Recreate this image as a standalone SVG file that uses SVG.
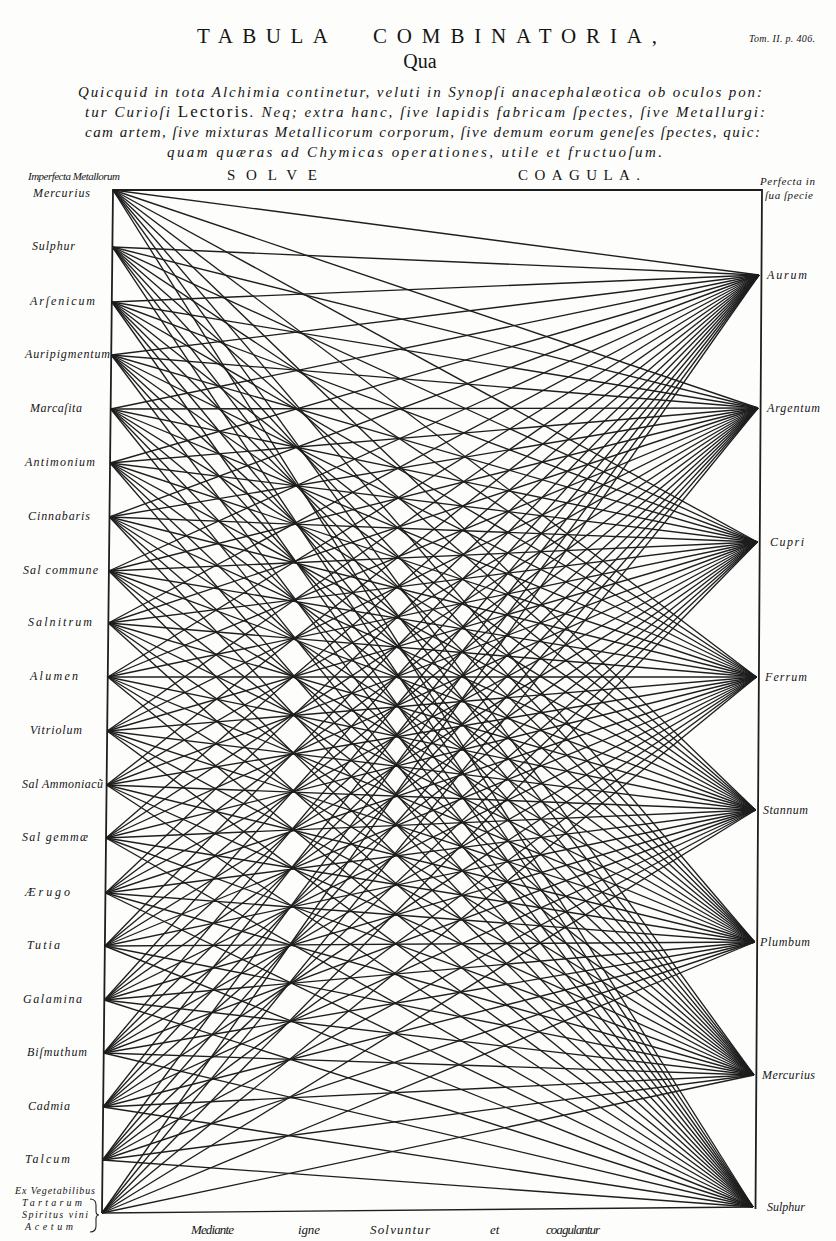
<svg xmlns="http://www.w3.org/2000/svg" width="836" height="1241" viewBox="0 0 836 1241">
<style>
.bg{fill:#fdfdfc}
.frame{fill:none;stroke:#1e1e1e;stroke-width:1.8}
#connectors line{stroke:#1e1e1e;stroke-width:1.35;fill:none}
.lbl{font-family:"Liberation Serif","DejaVu Serif",serif;font-style:italic;font-size:13px;fill:#151515}
.sm{font-size:12px}
.title{font-family:"Liberation Serif","DejaVu Serif",serif;font-size:21px;fill:#151515}
.txt{font-family:"Liberation Serif","DejaVu Serif",serif;font-style:italic;font-size:15px;fill:#151515}
.rom{font-style:normal;font-size:17px}
.head{font-family:"Liberation Serif","DejaVu Serif",serif;font-size:15px;fill:#151515}
</style>
<rect class="bg" x="0" y="0" width="836" height="1241"/>

<g id="header">
<text class="title" x="197" y="43" textLength="131" lengthAdjust="spacing">TABULA</text>
<text class="title" x="373" y="43" textLength="284" lengthAdjust="spacing">COMBINATORIA,</text>
<text class="lbl" x="749" y="42" textLength="66" lengthAdjust="spacing" style="font-size:10px">Tom. II. p. 406.</text>
<text class="title" x="420" y="68" text-anchor="middle" style="font-size:20px">Qua</text>
<text class="txt" x="78" y="97" textLength="684" lengthAdjust="spacing">Quicquid in tota Alchimia continetur, veluti in Synopſi anacephalæotica ob oculos pon:</text>
<text class="txt" x="85" y="117" textLength="680" lengthAdjust="spacing">tur Curioſi <tspan class="rom">Lectoris</tspan>. Neq; extra hanc, ſive lapidis fabricam ſpectes, ſive Metallurgi:</text>
<text class="txt" x="85" y="137" textLength="675" lengthAdjust="spacing">cam artem, ſive mixturas Metallicorum corporum, ſive demum eorum geneſes ſpectes, quic:</text>
<text class="txt" x="167" y="157" textLength="495" lengthAdjust="spacing">quam quæras ad Chymicas operationes, utile et fructuoſum.</text>
<text class="head" x="227" y="180" textLength="90" lengthAdjust="spacing">SOLVE</text>
<text class="head" x="518" y="180" textLength="122" lengthAdjust="spacing">COAGULA.</text>
<text class="lbl" x="28" y="180" textLength="92" lengthAdjust="spacing" style="font-size:11px">Imperfecta Metallorum</text>
<text class="lbl" x="760" y="185" textLength="55" lengthAdjust="spacing" style="font-size:11px">Perfecta in</text>
<text class="lbl" x="765" y="199" textLength="48" lengthAdjust="spacing" style="font-size:11px">ſua ſpecie</text>
</g>

<g id="footer">
<text class="lbl" x="191" y="1234" textLength="43" lengthAdjust="spacing">Mediante</text>
<text class="lbl" x="298" y="1234" textLength="22" lengthAdjust="spacing">igne</text>
<text class="lbl" x="370" y="1234" textLength="60" lengthAdjust="spacing">Solvuntur</text>
<text class="lbl" x="490" y="1234">et</text>
<text class="lbl" x="546" y="1234" textLength="54" lengthAdjust="spacing">coagulantur</text>
</g>

<path class="frame" d="M102 1213L113 190L762 190L755.5 1209"/>

<g id="connectors">
<line x1="113" y1="190" x2="759" y2="275"/><line x1="113" y1="190" x2="758" y2="408"/><line x1="113" y1="190" x2="757.3" y2="542"/><line x1="113" y1="190" x2="756.4" y2="677"/><line x1="113" y1="190" x2="755.5" y2="810"/><line x1="113" y1="190" x2="754.7" y2="942"/><line x1="113" y1="190" x2="753.9" y2="1075"/><line x1="113" y1="190" x2="753" y2="1207"/>
<line x1="112.4" y1="247" x2="759" y2="275"/><line x1="112.4" y1="247" x2="758" y2="408"/><line x1="112.4" y1="247" x2="757.3" y2="542"/><line x1="112.4" y1="247" x2="756.4" y2="677"/><line x1="112.4" y1="247" x2="755.5" y2="810"/><line x1="112.4" y1="247" x2="754.7" y2="942"/><line x1="112.4" y1="247" x2="753.9" y2="1075"/><line x1="112.4" y1="247" x2="753" y2="1207"/>
<line x1="111.8" y1="302" x2="759" y2="275"/><line x1="111.8" y1="302" x2="758" y2="408"/><line x1="111.8" y1="302" x2="757.3" y2="542"/><line x1="111.8" y1="302" x2="756.4" y2="677"/><line x1="111.8" y1="302" x2="755.5" y2="810"/><line x1="111.8" y1="302" x2="754.7" y2="942"/><line x1="111.8" y1="302" x2="753.9" y2="1075"/><line x1="111.8" y1="302" x2="753" y2="1207"/>
<line x1="111.3" y1="355" x2="759" y2="275"/><line x1="111.3" y1="355" x2="758" y2="408"/><line x1="111.3" y1="355" x2="757.3" y2="542"/><line x1="111.3" y1="355" x2="756.4" y2="677"/><line x1="111.3" y1="355" x2="755.5" y2="810"/><line x1="111.3" y1="355" x2="754.7" y2="942"/><line x1="111.3" y1="355" x2="753.9" y2="1075"/><line x1="111.3" y1="355" x2="753" y2="1207"/>
<line x1="110.7" y1="409" x2="759" y2="275"/><line x1="110.7" y1="409" x2="758" y2="408"/><line x1="110.7" y1="409" x2="757.3" y2="542"/><line x1="110.7" y1="409" x2="756.4" y2="677"/><line x1="110.7" y1="409" x2="755.5" y2="810"/><line x1="110.7" y1="409" x2="754.7" y2="942"/><line x1="110.7" y1="409" x2="753.9" y2="1075"/><line x1="110.7" y1="409" x2="753" y2="1207"/>
<line x1="110.1" y1="463" x2="759" y2="275"/><line x1="110.1" y1="463" x2="758" y2="408"/><line x1="110.1" y1="463" x2="757.3" y2="542"/><line x1="110.1" y1="463" x2="756.4" y2="677"/><line x1="110.1" y1="463" x2="755.5" y2="810"/><line x1="110.1" y1="463" x2="754.7" y2="942"/><line x1="110.1" y1="463" x2="753.9" y2="1075"/><line x1="110.1" y1="463" x2="753" y2="1207"/>
<line x1="109.5" y1="517" x2="759" y2="275"/><line x1="109.5" y1="517" x2="758" y2="408"/><line x1="109.5" y1="517" x2="757.3" y2="542"/><line x1="109.5" y1="517" x2="756.4" y2="677"/><line x1="109.5" y1="517" x2="755.5" y2="810"/><line x1="109.5" y1="517" x2="754.7" y2="942"/><line x1="109.5" y1="517" x2="753.9" y2="1075"/><line x1="109.5" y1="517" x2="753" y2="1207"/>
<line x1="108.9" y1="571" x2="759" y2="275"/><line x1="108.9" y1="571" x2="758" y2="408"/><line x1="108.9" y1="571" x2="757.3" y2="542"/><line x1="108.9" y1="571" x2="756.4" y2="677"/><line x1="108.9" y1="571" x2="755.5" y2="810"/><line x1="108.9" y1="571" x2="754.7" y2="942"/><line x1="108.9" y1="571" x2="753.9" y2="1075"/><line x1="108.9" y1="571" x2="753" y2="1207"/>
<line x1="108.4" y1="623" x2="759" y2="275"/><line x1="108.4" y1="623" x2="758" y2="408"/><line x1="108.4" y1="623" x2="757.3" y2="542"/><line x1="108.4" y1="623" x2="756.4" y2="677"/><line x1="108.4" y1="623" x2="755.5" y2="810"/><line x1="108.4" y1="623" x2="754.7" y2="942"/><line x1="108.4" y1="623" x2="753.9" y2="1075"/><line x1="108.4" y1="623" x2="753" y2="1207"/>
<line x1="107.8" y1="677" x2="759" y2="275"/><line x1="107.8" y1="677" x2="758" y2="408"/><line x1="107.8" y1="677" x2="757.3" y2="542"/><line x1="107.8" y1="677" x2="756.4" y2="677"/><line x1="107.8" y1="677" x2="755.5" y2="810"/><line x1="107.8" y1="677" x2="754.7" y2="942"/><line x1="107.8" y1="677" x2="753.9" y2="1075"/><line x1="107.8" y1="677" x2="753" y2="1207"/>
<line x1="107.2" y1="731" x2="759" y2="275"/><line x1="107.2" y1="731" x2="758" y2="408"/><line x1="107.2" y1="731" x2="757.3" y2="542"/><line x1="107.2" y1="731" x2="756.4" y2="677"/><line x1="107.2" y1="731" x2="755.5" y2="810"/><line x1="107.2" y1="731" x2="754.7" y2="942"/><line x1="107.2" y1="731" x2="753.9" y2="1075"/><line x1="107.2" y1="731" x2="753" y2="1207"/>
<line x1="106.6" y1="785" x2="759" y2="275"/><line x1="106.6" y1="785" x2="758" y2="408"/><line x1="106.6" y1="785" x2="757.3" y2="542"/><line x1="106.6" y1="785" x2="756.4" y2="677"/><line x1="106.6" y1="785" x2="755.5" y2="810"/><line x1="106.6" y1="785" x2="754.7" y2="942"/><line x1="106.6" y1="785" x2="753.9" y2="1075"/><line x1="106.6" y1="785" x2="753" y2="1207"/>
<line x1="106" y1="838" x2="759" y2="275"/><line x1="106" y1="838" x2="758" y2="408"/><line x1="106" y1="838" x2="757.3" y2="542"/><line x1="106" y1="838" x2="756.4" y2="677"/><line x1="106" y1="838" x2="755.5" y2="810"/><line x1="106" y1="838" x2="754.7" y2="942"/><line x1="106" y1="838" x2="753.9" y2="1075"/><line x1="106" y1="838" x2="753" y2="1207"/>
<line x1="105.5" y1="893" x2="759" y2="275"/><line x1="105.5" y1="893" x2="758" y2="408"/><line x1="105.5" y1="893" x2="757.3" y2="542"/><line x1="105.5" y1="893" x2="756.4" y2="677"/><line x1="105.5" y1="893" x2="755.5" y2="810"/><line x1="105.5" y1="893" x2="754.7" y2="942"/><line x1="105.5" y1="893" x2="753.9" y2="1075"/><line x1="105.5" y1="893" x2="753" y2="1207"/>
<line x1="104.9" y1="946" x2="759" y2="275"/><line x1="104.9" y1="946" x2="758" y2="408"/><line x1="104.9" y1="946" x2="757.3" y2="542"/><line x1="104.9" y1="946" x2="756.4" y2="677"/><line x1="104.9" y1="946" x2="755.5" y2="810"/><line x1="104.9" y1="946" x2="754.7" y2="942"/><line x1="104.9" y1="946" x2="753.9" y2="1075"/><line x1="104.9" y1="946" x2="753" y2="1207"/>
<line x1="104.3" y1="1000" x2="759" y2="275"/><line x1="104.3" y1="1000" x2="758" y2="408"/><line x1="104.3" y1="1000" x2="757.3" y2="542"/><line x1="104.3" y1="1000" x2="756.4" y2="677"/><line x1="104.3" y1="1000" x2="755.5" y2="810"/><line x1="104.3" y1="1000" x2="754.7" y2="942"/><line x1="104.3" y1="1000" x2="753.9" y2="1075"/><line x1="104.3" y1="1000" x2="753" y2="1207"/>
<line x1="103.7" y1="1053" x2="759" y2="275"/><line x1="103.7" y1="1053" x2="758" y2="408"/><line x1="103.7" y1="1053" x2="757.3" y2="542"/><line x1="103.7" y1="1053" x2="756.4" y2="677"/><line x1="103.7" y1="1053" x2="755.5" y2="810"/><line x1="103.7" y1="1053" x2="754.7" y2="942"/><line x1="103.7" y1="1053" x2="753.9" y2="1075"/><line x1="103.7" y1="1053" x2="753" y2="1207"/>
<line x1="103.1" y1="1107" x2="759" y2="275"/><line x1="103.1" y1="1107" x2="758" y2="408"/><line x1="103.1" y1="1107" x2="757.3" y2="542"/><line x1="103.1" y1="1107" x2="756.4" y2="677"/><line x1="103.1" y1="1107" x2="755.5" y2="810"/><line x1="103.1" y1="1107" x2="754.7" y2="942"/><line x1="103.1" y1="1107" x2="753.9" y2="1075"/><line x1="103.1" y1="1107" x2="753" y2="1207"/>
<line x1="102.6" y1="1160" x2="759" y2="275"/><line x1="102.6" y1="1160" x2="758" y2="408"/><line x1="102.6" y1="1160" x2="757.3" y2="542"/><line x1="102.6" y1="1160" x2="756.4" y2="677"/><line x1="102.6" y1="1160" x2="755.5" y2="810"/><line x1="102.6" y1="1160" x2="754.7" y2="942"/><line x1="102.6" y1="1160" x2="753.9" y2="1075"/><line x1="102.6" y1="1160" x2="753" y2="1207"/>
<line x1="102" y1="1213" x2="759" y2="275"/><line x1="102" y1="1213" x2="758" y2="408"/><line x1="102" y1="1213" x2="757.3" y2="542"/><line x1="102" y1="1213" x2="756.4" y2="677"/><line x1="102" y1="1213" x2="755.5" y2="810"/><line x1="102" y1="1213" x2="754.7" y2="942"/><line x1="102" y1="1213" x2="753.9" y2="1075"/><line x1="102" y1="1213" x2="753" y2="1207"/>
</g>

<g id="left-nodes">
<g id="n-mercurius-l"><text class="lbl sm" x="33" y="197" textLength="57" lengthAdjust="spacing">Mercurius</text></g>
<g id="n-sulphur-l"><text class="lbl sm" x="32" y="250" textLength="43" lengthAdjust="spacing">Sulphur</text></g>
<g id="n-arsenicum"><text class="lbl sm" x="30" y="305" textLength="65" lengthAdjust="spacing">Arſenicum</text></g>
<g id="n-auripigmentum"><text class="lbl sm" x="25" y="358" textLength="85" lengthAdjust="spacing">Auripigmentum</text></g>
<g id="n-marcasita"><text class="lbl sm" x="30" y="412" textLength="52" lengthAdjust="spacing">Marcaſita</text></g>
<g id="n-antimonium"><text class="lbl sm" x="25" y="466" textLength="70" lengthAdjust="spacing">Antimonium</text></g>
<g id="n-cinnabaris"><text class="lbl sm" x="28" y="520" textLength="62" lengthAdjust="spacing">Cinnabaris</text></g>
<g id="n-sal-commune"><text class="lbl sm" x="23" y="574" textLength="75" lengthAdjust="spacing">Sal commune</text></g>
<g id="n-salnitrum"><text class="lbl sm" x="28" y="626" textLength="64" lengthAdjust="spacing">Salnitrum</text></g>
<g id="n-alumen"><text class="lbl sm" x="30" y="680" textLength="48" lengthAdjust="spacing">Alumen</text></g>
<g id="n-vitriolum"><text class="lbl sm" x="30" y="734" textLength="52" lengthAdjust="spacing">Vitriolum</text></g>
<g id="n-sal-ammoniacum"><text class="lbl sm" x="22" y="788" textLength="81" lengthAdjust="spacing">Sal Ammoniacũ</text></g>
<g id="n-sal-gemmae"><text class="lbl sm" x="22" y="841" textLength="66" lengthAdjust="spacing">Sal gemmæ</text></g>
<g id="n-aerugo"><text class="lbl sm" x="25" y="896" textLength="45" lengthAdjust="spacing">Ærugo</text></g>
<g id="n-tutia"><text class="lbl sm" x="27" y="949" textLength="33" lengthAdjust="spacing">Tutia</text></g>
<g id="n-galamina"><text class="lbl sm" x="23" y="1003" textLength="59" lengthAdjust="spacing">Galamina</text></g>
<g id="n-bismuthum"><text class="lbl sm" x="27" y="1056" textLength="60" lengthAdjust="spacing">Biſmuthum</text></g>
<g id="n-cadmia"><text class="lbl sm" x="28" y="1110" textLength="42" lengthAdjust="spacing">Cadmia</text></g>
<g id="n-talcum"><text class="lbl sm" x="25" y="1163" textLength="45" lengthAdjust="spacing">Talcum</text></g>
<g id="n-vegetabilibus">
<text class="lbl" x="15" y="1194" textLength="80" lengthAdjust="spacing" style="font-size:10px">Ex Vegetabilibus</text>
<text class="lbl" x="22" y="1206" textLength="60" lengthAdjust="spacing" style="font-size:10px">Tartarum</text>
<text class="lbl" x="22" y="1218" textLength="66" lengthAdjust="spacing" style="font-size:10px">Spiritus vini</text>
<text class="lbl" x="25" y="1230" textLength="48" lengthAdjust="spacing" style="font-size:10px">Acetum</text>
<path d="M90 1199Q96 1199 96 1205L96 1211Q96 1215 99 1215Q96 1215 96 1219L96 1226Q96 1232 90 1232" fill="none" stroke="#222" stroke-width="1.1"/>
</g>
</g>

<g id="right-nodes">
<g id="n-aurum"><text class="lbl sm" x="767" y="279" textLength="40" lengthAdjust="spacing">Aurum</text></g>
<g id="n-argentum"><text class="lbl sm" x="767" y="412" textLength="53" lengthAdjust="spacing">Argentum</text></g>
<g id="n-cuprum"><text class="lbl sm" x="770" y="546" textLength="34" lengthAdjust="spacing">Cupri</text></g>
<g id="n-ferrum"><text class="lbl sm" x="765" y="681" textLength="42" lengthAdjust="spacing">Ferrum</text></g>
<g id="n-stannum"><text class="lbl sm" x="763" y="814" textLength="45" lengthAdjust="spacing">Stannum</text></g>
<g id="n-plumbum"><text class="lbl sm" x="760" y="946" textLength="50" lengthAdjust="spacing">Plumbum</text></g>
<g id="n-mercurius-r"><text class="lbl sm" x="762" y="1079" textLength="53" lengthAdjust="spacing">Mercurius</text></g>
<g id="n-sulphur-r"><text class="lbl sm" x="767" y="1211" textLength="38" lengthAdjust="spacing">Sulphur</text></g>
</g>
</svg>
